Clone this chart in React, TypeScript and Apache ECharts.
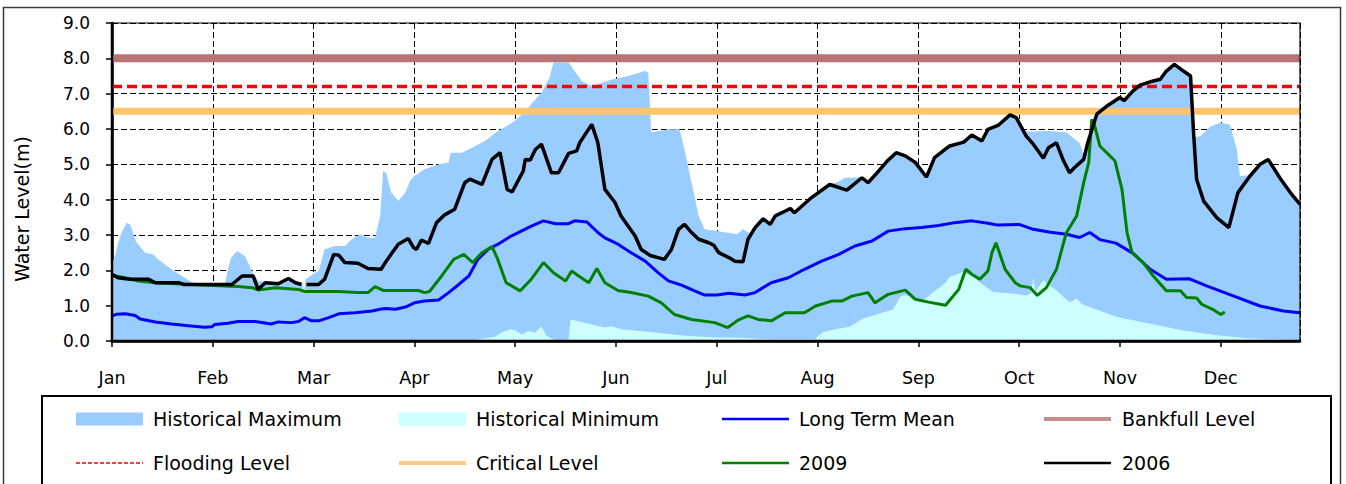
import React, { useEffect, useRef } from 'react';
import * as echarts from 'echarts';

type P = [number, number | string];

const months = ['Jan', 'Feb', 'Mar', 'Apr', 'May', 'Jun', 'Jul', 'Aug', 'Sep', 'Oct', 'Nov', 'Dec'];
const xEnd = 11.786; // axis end, in months from 1 Jan

const bankfullLevel = 8.0;
const floodingLevel = 7.2;
const criticalLevel = 6.5;

const histMax: P[] = [
  [0, 2.2], [0.03, 2.4], [0.08, 2.97], [0.145, 3.35], [0.18, 3.3], [0.24, 2.8], [0.33, 2.5], [0.41, 2.45],
  [0.46, 2.31], [0.59, 2.03], [0.72, 1.79], [0.8, 1.65], [1.0, 1.62], [1.12, 1.62], [1.15, 2.0], [1.18, 2.35],
  [1.24, 2.55], [1.32, 2.4], [1.4, 1.9], [1.45, 1.7], [1.52, 1.68], [1.65, 1.68], [1.75, 1.8], [1.82, 1.7],
  [1.89, 1.65], [1.905, 1.3], [1.92, 1.75], [2.0, 1.9], [2.05, 1.98], [2.11, 2.6], [2.21, 2.69], [2.31, 2.69],
  [2.38, 2.88], [2.46, 3.02], [2.54, 2.92], [2.61, 2.92], [2.66, 3.54], [2.69, 4.81], [2.72, 4.76], [2.77, 4.2],
  [2.84, 3.96], [2.91, 4.2], [2.96, 4.55], [3.0, 4.67], [3.1, 4.86], [3.24, 5.0], [3.34, 5.05], [3.36, 5.33],
  [3.47, 5.33], [3.57, 5.47], [3.7, 5.66], [3.83, 5.94], [4.0, 6.23], [4.13, 6.6], [4.26, 7.03], [4.34, 7.45],
  [4.38, 7.88], [4.53, 7.88], [4.66, 7.36], [4.76, 7.22], [4.96, 7.4], [5.12, 7.5], [5.29, 7.64], [5.32, 7.6],
  [5.35, 5.9], [5.52, 5.99], [5.63, 5.99], [5.68, 5.42], [5.75, 4.48], [5.82, 3.54], [5.88, 3.16], [6.0, 3.11],
  [6.2, 3.02], [6.26, 3.16], [6.33, 3.05], [6.38, 3.25], [6.46, 3.5], [6.53, 3.35], [6.58, 3.56], [6.68, 3.7],
  [6.73, 3.77], [6.77, 3.66], [6.94, 4.08], [7.12, 4.45], [7.2, 4.5], [7.27, 4.62], [7.34, 4.62], [7.44, 4.64],
  [7.5, 4.5], [7.59, 4.78], [7.69, 5.11], [7.78, 5.35], [7.87, 5.26], [7.97, 5.07], [8.08, 4.66], [8.16, 5.21],
  [8.31, 5.54], [8.45, 5.65], [8.53, 5.85], [8.63, 5.68], [8.69, 6.01], [8.79, 6.12], [8.91, 6.42], [8.97, 6.34],
  [9.03, 6.0], [9.07, 5.92], [9.3, 5.94], [9.47, 5.9], [9.6, 5.6], [9.65, 5.2], [9.68, 5.61], [9.77, 6.46],
  [9.87, 6.67], [10.0, 6.91], [10.04, 6.82], [10.13, 7.1], [10.2, 7.26], [10.33, 7.38], [10.4, 7.45], [10.46, 7.66],
  [10.54, 7.85], [10.63, 7.66], [10.7, 7.52], [10.73, 5.75], [10.8, 5.8], [10.9, 6.08], [11.0, 6.18], [11.09, 6.13],
  [11.16, 5.42], [11.19, 4.67], [11.29, 4.69], [11.39, 5.02], [11.47, 5.16], [11.59, 4.62], [11.69, 4.22], [11.786, 3.89],
];

const histMin: P[] = [
  [0, 0.03], [3.6, 0.03], [3.7, 0.08], [3.8, 0.12], [3.85, 0.22], [3.9, 0.28], [3.96, 0.33], [4.0, 0.3],
  [4.07, 0.19], [4.13, 0.28], [4.2, 0.24], [4.26, 0.42], [4.31, 0.14], [4.38, 0.05], [4.43, 0.02], [4.53, 0.05],
  [4.55, 0.61], [4.69, 0.52], [4.89, 0.38], [4.95, 0.42], [5.06, 0.33], [5.39, 0.24], [5.72, 0.14], [6.0, 0.1],
  [6.21, 0.09], [6.54, 0.05], [6.97, 0.05], [7.05, 0.25], [7.2, 0.35], [7.32, 0.4], [7.45, 0.64], [7.55, 0.72],
  [7.7, 0.85], [7.75, 0.9], [7.82, 1.25], [7.87, 1.3], [7.98, 1.2], [8.05, 1.15], [8.15, 1.39], [8.27, 1.65],
  [8.31, 1.81], [8.44, 1.95], [8.53, 1.85], [8.6, 1.68], [8.74, 1.39], [8.91, 1.35], [9.07, 1.29], [9.12, 1.35],
  [9.14, 1.81], [9.16, 1.4], [9.24, 1.72], [9.37, 1.43], [9.5, 1.1], [9.54, 1.15], [9.57, 1.2], [9.62, 1.05],
  [9.7, 0.96], [9.97, 0.68], [10.3, 0.49], [10.63, 0.3], [10.96, 0.16], [11.29, 0.07], [11.786, 0.03],
];

const longTermMean: P[] = [
  [0, 0.71], [0.05, 0.76], [0.13, 0.77], [0.23, 0.72], [0.28, 0.62], [0.43, 0.54], [0.59, 0.48], [0.76, 0.43],
  [0.92, 0.39], [0.99, 0.4], [1.02, 0.47], [1.15, 0.5], [1.25, 0.55], [1.42, 0.55], [1.58, 0.48], [1.65, 0.54],
  [1.78, 0.52], [1.85, 0.55], [1.91, 0.66], [1.98, 0.57], [2.05, 0.57], [2.15, 0.66], [2.25, 0.77], [2.41, 0.8],
  [2.58, 0.85], [2.66, 0.9], [2.71, 0.92], [2.81, 0.9], [2.91, 0.96], [3.0, 1.08], [3.1, 1.13], [3.24, 1.16],
  [3.34, 1.37], [3.44, 1.6], [3.54, 1.84], [3.63, 2.31], [3.73, 2.59], [3.83, 2.74], [3.96, 2.97], [4.06, 3.11],
  [4.16, 3.25], [4.28, 3.4], [4.4, 3.32], [4.53, 3.32], [4.59, 3.4], [4.71, 3.37], [4.82, 3.07], [4.89, 2.92],
  [5.02, 2.74], [5.15, 2.5], [5.29, 2.26], [5.42, 1.93], [5.52, 1.7], [5.65, 1.58], [5.78, 1.42], [5.88, 1.3],
  [6.0, 1.3], [6.12, 1.35], [6.28, 1.3], [6.38, 1.37], [6.54, 1.65], [6.71, 1.79], [6.87, 2.03], [7.04, 2.26],
  [7.21, 2.45], [7.37, 2.69], [7.54, 2.83], [7.7, 3.11], [7.87, 3.18], [8.03, 3.21], [8.2, 3.27], [8.36, 3.35],
  [8.53, 3.4], [8.69, 3.33], [8.79, 3.28], [9.0, 3.3], [9.14, 3.16], [9.31, 3.08], [9.47, 3.02], [9.6, 2.93],
  [9.7, 3.07], [9.8, 2.87], [9.96, 2.77], [10.13, 2.48], [10.3, 2.03], [10.46, 1.75], [10.69, 1.76], [10.86, 1.56],
  [11.13, 1.27], [11.39, 0.99], [11.62, 0.85], [11.786, 0.8],
];

const level2009: P[] = [
  [0, 1.86], [0.13, 1.79], [0.26, 1.7], [0.43, 1.65], [0.79, 1.6], [1.12, 1.56], [1.25, 1.54], [1.39, 1.51],
  [1.45, 1.44], [1.62, 1.51], [1.85, 1.46], [1.91, 1.4], [2.25, 1.4], [2.44, 1.37], [2.54, 1.37], [2.61, 1.54],
  [2.69, 1.43], [3.04, 1.43], [3.1, 1.37], [3.15, 1.4], [3.27, 1.84], [3.39, 2.31], [3.49, 2.45], [3.58, 2.22],
  [3.67, 2.5], [3.77, 2.67], [3.82, 2.36], [3.91, 1.65], [4.05, 1.42], [4.16, 1.75], [4.28, 2.22], [4.38, 1.93],
  [4.5, 1.7], [4.56, 1.98], [4.63, 1.84], [4.73, 1.65], [4.81, 2.05], [4.89, 1.65], [5.02, 1.43], [5.15, 1.37],
  [5.32, 1.27], [5.45, 1.08], [5.58, 0.75], [5.75, 0.61], [5.98, 0.52], [6.11, 0.38], [6.21, 0.59], [6.31, 0.71],
  [6.41, 0.61], [6.54, 0.57], [6.68, 0.8], [6.87, 0.8], [6.98, 0.99], [7.14, 1.13], [7.24, 1.13], [7.34, 1.27],
  [7.5, 1.37], [7.57, 1.08], [7.7, 1.32], [7.87, 1.44], [7.97, 1.18], [8.1, 1.1], [8.27, 1.01], [8.4, 1.46],
  [8.47, 2.03], [8.53, 1.89], [8.61, 1.75], [8.69, 1.98], [8.73, 2.5], [8.77, 2.78], [8.86, 2.03], [8.96, 1.65],
  [9.01, 1.56], [9.11, 1.51], [9.18, 1.29], [9.27, 1.51], [9.37, 2.03], [9.44, 2.78], [9.47, 3.07], [9.57, 3.54],
  [9.64, 4.48], [9.69, 5.05], [9.72, 6.27], [9.75, 6.08], [9.8, 5.52], [9.9, 5.24], [9.95, 5.1], [10.02, 4.29],
  [10.07, 3.07], [10.12, 2.5], [10.23, 2.22], [10.33, 1.84], [10.46, 1.42], [10.6, 1.42], [10.66, 1.23], [10.76, 1.22],
  [10.81, 1.04], [10.93, 0.88], [11.0, 0.75], [11.04, 0.82],
];

const level2006: P[] = [
  [0, 1.89], [0.06, 1.79], [0.18, 1.75], [0.36, 1.75], [0.43, 1.65], [0.66, 1.65], [0.71, 1.6], [1.19, 1.6],
  [1.29, 1.84], [1.4, 1.84], [1.45, 1.46], [1.52, 1.65], [1.65, 1.62], [1.75, 1.77], [1.82, 1.65], [1.88, 1.6],
  [1.9, '-'], [1.93, 1.6], [2.05, 1.6], [2.11, 1.75], [2.2, 2.45], [2.25, 2.43], [2.31, 2.22], [2.44, 2.2],
  [2.54, 2.05], [2.67, 2.03], [2.72, 2.26], [2.84, 2.74], [2.94, 2.9], [2.99, 2.65], [3.02, 2.59], [3.07, 2.86],
  [3.14, 2.76], [3.22, 3.35], [3.3, 3.57], [3.4, 3.73], [3.5, 4.48], [3.55, 4.58], [3.67, 4.43], [3.77, 5.14],
  [3.85, 5.33], [3.92, 4.29], [3.97, 4.22], [4.08, 4.81], [4.1, 5.14], [4.15, 5.12], [4.2, 5.42], [4.26, 5.57],
  [4.36, 4.76], [4.43, 4.76], [4.53, 5.31], [4.61, 5.38], [4.64, 5.61], [4.76, 6.13], [4.82, 5.61], [4.89, 4.29],
  [4.99, 3.92], [5.05, 3.54], [5.19, 2.97], [5.25, 2.59], [5.34, 2.42], [5.48, 2.31], [5.55, 2.59], [5.62, 3.16],
  [5.68, 3.3], [5.75, 3.07], [5.82, 2.88], [5.92, 2.78], [5.97, 2.71], [6.02, 2.5], [6.12, 2.36], [6.18, 2.26],
  [6.26, 2.24], [6.31, 2.88], [6.38, 3.21], [6.46, 3.46], [6.53, 3.3], [6.58, 3.54], [6.68, 3.68], [6.73, 3.75],
  [6.77, 3.63], [6.94, 4.06], [7.12, 4.43], [7.29, 4.27], [7.44, 4.62], [7.5, 4.48], [7.59, 4.76], [7.69, 5.09],
  [7.78, 5.33], [7.87, 5.24], [7.97, 5.05], [8.08, 4.64], [8.16, 5.19], [8.31, 5.52], [8.45, 5.63], [8.53, 5.83],
  [8.63, 5.66], [8.69, 5.99], [8.79, 6.1], [8.91, 6.4], [8.97, 6.32], [9.07, 5.8], [9.14, 5.57], [9.24, 5.17],
  [9.29, 5.47], [9.37, 5.61], [9.44, 5.1], [9.5, 4.76], [9.55, 4.91], [9.64, 5.14], [9.68, 5.61], [9.77, 6.42],
  [9.87, 6.65], [10.0, 6.89], [10.04, 6.8], [10.13, 7.08], [10.2, 7.24], [10.33, 7.36], [10.4, 7.41], [10.46, 7.64],
  [10.54, 7.83], [10.63, 7.64], [10.7, 7.5], [10.73, 5.9], [10.76, 4.58], [10.83, 3.96], [10.96, 3.49], [11.08, 3.21],
  [11.17, 4.2], [11.29, 4.67], [11.39, 5.0], [11.47, 5.14], [11.59, 4.6], [11.69, 4.2], [11.786, 3.87],
];

const C = {
  max: '#99CCFF',
  min: '#CCFFFF',
  mean: '#0000FF',
  bankfull: '#B87474',
  flooding: '#FF0000',
  critical: '#FFC56E',
  y2009: '#008000',
  y2006: '#000000',
};

const FONT = 'DejaVu Sans';
const GRID = { left: 112, top: 23, width: 1188, height: 318 };

type LegendKind = 'rect' | 'line' | 'dash' | 'band';
const legendItems: { name: string; kind: LegendKind; color: string }[] = [
  { name: 'Historical Maximum', kind: 'rect', color: C.max },
  { name: 'Historical Minimum', kind: 'rect', color: C.min },
  { name: 'Long Term Mean', kind: 'line', color: C.mean },
  { name: 'Bankfull Level', kind: 'band', color: '#C98C8C' },
  { name: 'Flooding Level', kind: 'dash', color: C.flooding },
  { name: 'Critical Level', kind: 'band', color: '#FFCB85' },
  { name: '2009', kind: 'line', color: C.y2009 },
  { name: '2006', kind: 'line', color: C.y2006 },
];

const levelLine = (v: number): P[] => [[0, v], [xEnd, v]];

function buildLegend(): any[] {
  const colSym = [76, 399, 722, 1044];
  const colText = [153, 476, 799, 1122];
  const rowY = [419, 463];
  const symW = 67;
  const els: any[] = [];
  legendItems.forEach((it, i) => {
    const c = i % 4;
    const r = Math.floor(i / 4);
    const x = colSym[c];
    const y = rowY[r];
    if (it.kind === 'rect') {
      els.push({ type: 'rect', shape: { x, y: y - 6.5, width: symW, height: 13 }, style: { fill: it.color }, z: 110 });
    } else if (it.kind === 'line') {
      els.push({ type: 'line', shape: { x1: x, y1: y, x2: x + symW, y2: y }, style: { stroke: it.color, lineWidth: 2.5 }, z: 110 });
    } else if (it.kind === 'dash') {
      els.push({ type: 'line', shape: { x1: x, y1: y, x2: x + symW, y2: y }, style: { stroke: it.color, lineWidth: 1.5, lineDash: [4, 2] }, z: 110 });
    } else {
      els.push({ type: 'line', shape: { x1: x, y1: y, x2: x + symW, y2: y }, style: { stroke: it.color, lineWidth: 4 }, z: 110 });
    }
    els.push({
      type: 'text',
      x: colText[c],
      y,
      style: { text: it.name, fontSize: 19, fontFamily: FONT, fill: '#000', textAlign: 'left', textVerticalAlign: 'middle', align: 'left', verticalAlign: 'middle' },
      z: 110,
    });
  });
  return els;
}

export default function App() {
  const ref = useRef<HTMLDivElement>(null);
  useEffect(() => {
    if (!ref.current) return;
    const chart = echarts.init(ref.current, undefined, { renderer: 'svg' });
    const gx0 = GRID.left;
    const gy0 = GRID.top;
    const gx1 = GRID.left + GRID.width;
    const gy1 = GRID.top + GRID.height;
    const lineSeries = (name: string, data: P[], color: string, width: number, extra: any = {}) => ({
      name,
      type: 'line',
      data,
      symbol: 'none',
      silent: true,
      connectNulls: false,
      lineStyle: { color, width, ...(extra.lineStyle || {}) },
      itemStyle: { color },
    });
    chart.setOption({
      animation: false,
      backgroundColor: '#ffffff',
      grid: { ...GRID, containLabel: false },
      xAxis: {
        type: 'value',
        min: 0,
        max: xEnd,
        interval: 1,
        axisLine: { show: true, lineStyle: { color: '#000', width: 2.5 } },
        axisTick: { show: true, length: 6, lineStyle: { color: '#000', width: 1.5 } },
        axisLabel: {
          formatter: (v: number) => (Number.isInteger(v) && v < 12 ? months[v] : ''),
          margin: 28,
          fontSize: 17.5,
          fontFamily: FONT,
          color: '#000',
          showMaxLabel: false,
        },
        splitLine: { show: true, lineStyle: { color: '#000', type: [6, 3], width: 1 } },
      },
      yAxis: {
        type: 'value',
        min: 0,
        max: 9,
        interval: 1,
        axisLine: { show: true, lineStyle: { color: '#000', width: 2.5 } },
        axisTick: { show: true, length: 6, lineStyle: { color: '#000', width: 1.5 } },
        axisLabel: {
          formatter: (v: number) => v.toFixed(1),
          margin: 22,
          fontSize: 17,
          fontFamily: FONT,
          color: '#000',
        },
        splitLine: { show: true, lineStyle: { color: '#000', type: [6, 3], width: 1 } },
      },
      series: [
        {
          name: 'Historical Maximum',
          type: 'line',
          data: histMax,
          symbol: 'none',
          silent: true,
          lineStyle: { width: 0, color: C.max },
          itemStyle: { color: C.max },
          areaStyle: { color: C.max, opacity: 1 },
        },
        {
          name: 'Historical Minimum',
          type: 'line',
          data: histMin,
          symbol: 'none',
          silent: true,
          lineStyle: { width: 0, color: C.min },
          itemStyle: { color: C.min },
          areaStyle: { color: C.min, opacity: 1 },
        },
        lineSeries('Long Term Mean', longTermMean, C.mean, 3),
        lineSeries('Bankfull Level', levelLine(bankfullLevel), C.bankfull, 8),
        lineSeries('Flooding Level', levelLine(floodingLevel), C.flooding, 3.5, { lineStyle: { type: [10, 5] } }),
        lineSeries('Critical Level', levelLine(criticalLevel), C.critical, 7),
        lineSeries('2009', level2009, C.y2009, 3),
        lineSeries('2006', level2006, C.y2006, 3.5),
      ],
      graphic: [
        { type: 'rect', shape: { x: 3.5, y: 7.5, width: 1337, height: 520 }, style: { fill: 'transparent', stroke: '#3a3a3a', lineWidth: 1.5 }, z: 100 },
        { type: 'rect', shape: { x: gx0, y: gy0, width: GRID.width, height: GRID.height }, style: { fill: 'transparent', stroke: '#000', lineWidth: 1.2 }, z: 100 },
        { type: 'line', shape: { x1: gx0, y1: gy0, x2: gx0, y2: gy1 + 1.25 }, style: { stroke: '#000', lineWidth: 2.5 }, z: 101 },
        { type: 'line', shape: { x1: gx0 - 1.25, y1: gy1, x2: gx1, y2: gy1 }, style: { stroke: '#000', lineWidth: 2.5 }, z: 101 },
        {
          type: 'text',
          x: 22,
          y: 209,
          rotation: Math.PI / 2,
          style: { text: 'Water Level(m)', fontSize: 19, fontFamily: FONT, fill: '#000', textAlign: 'center', textVerticalAlign: 'middle', align: 'center', verticalAlign: 'middle' },
          z: 100,
        },
        { type: 'rect', shape: { x: 42, y: 396, width: 1289, height: 130 }, style: { fill: 'transparent', stroke: '#000', lineWidth: 2 }, z: 100 },
        ...buildLegend(),
      ],
    });
    return () => chart.dispose();
  }, []);
  return <div ref={ref} style={{ position: 'absolute', left: 0, top: 0, width: 1346, height: 484 }} />;
}
